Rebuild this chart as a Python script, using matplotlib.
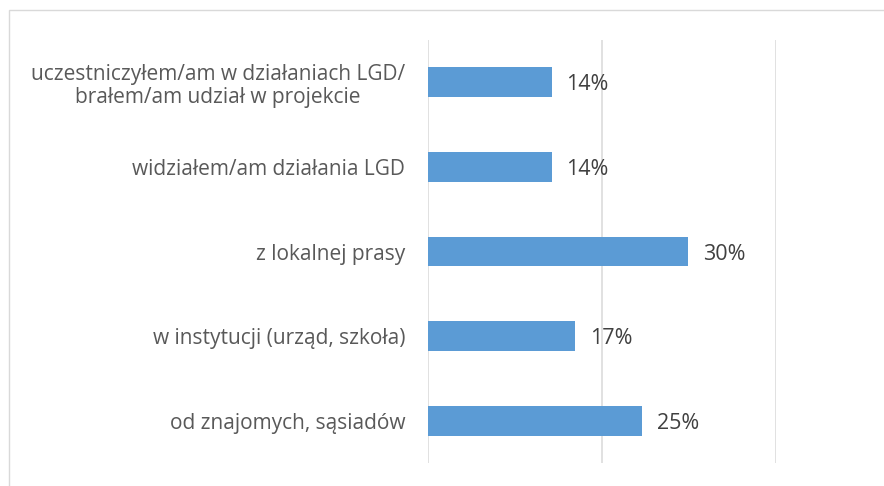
import matplotlib.pyplot as plt
from matplotlib.patches import Rectangle

categories = [
    "uczestniczyłem/am w działaniach LGD/\nbrałem/am udział w projekcie",
    "widziałem/am działania LGD",
    "z lokalnej prasy",
    "w instytucji (urząd, szkoła)",
    "od znajomych, sąsiadów",
]
values = [0.142, 0.142, 0.299, 0.169, 0.246]
value_labels = ["14%", "14%", "30%", "17%", "25%"]

plt.rcParams['font.family'] = ['Open Sans', 'DejaVu Sans']

fig = plt.figure(figsize=(8.84, 4.86), dpi=100, facecolor='white')
ax = fig.add_axes([428 / 884, 1 - 463 / 486, (776 - 428) / 884, (463 - 40) / 486])

# outer chart frame (only top and left edges visible)
fig.patches.append(Rectangle((9 / 884, -0.5), 2, 0.5 + 1 - 10 / 486,
                             transform=fig.transFigure, fill=False,
                             edgecolor='#d9d9d9', linewidth=1))

ypos = list(range(len(categories)))[::-1]
ax.barh(ypos, values, height=0.35, color='#5b9bd5', zorder=3)

for y, v, lab in zip(ypos, values, value_labels):
    ax.text(v + 0.017, y - 0.03, lab, va='center', ha='left', fontsize=15.5, color='#404040')

ax.set_xlim(0, 0.4)
ax.set_ylim(-0.5, len(categories) - 0.5)
ax.set_xticks([0, 0.2, 0.4])
ax.set_xticklabels([])
ax.xaxis.grid(True, color='#d9d9d9', linewidth=1.1, zorder=0)
ax.tick_params(length=0)
ax.set_yticks(ypos)
ax.set_yticklabels(categories, fontsize=15, color='#595959', linespacing=1.15)
ax.tick_params(axis='y', pad=16.5)
for lbl in ax.get_yticklabels():
    lbl.set_multialignment('center')
for s in ax.spines.values():
    s.set_visible(False)

fig.savefig('out.png', dpi=100, facecolor='white')
